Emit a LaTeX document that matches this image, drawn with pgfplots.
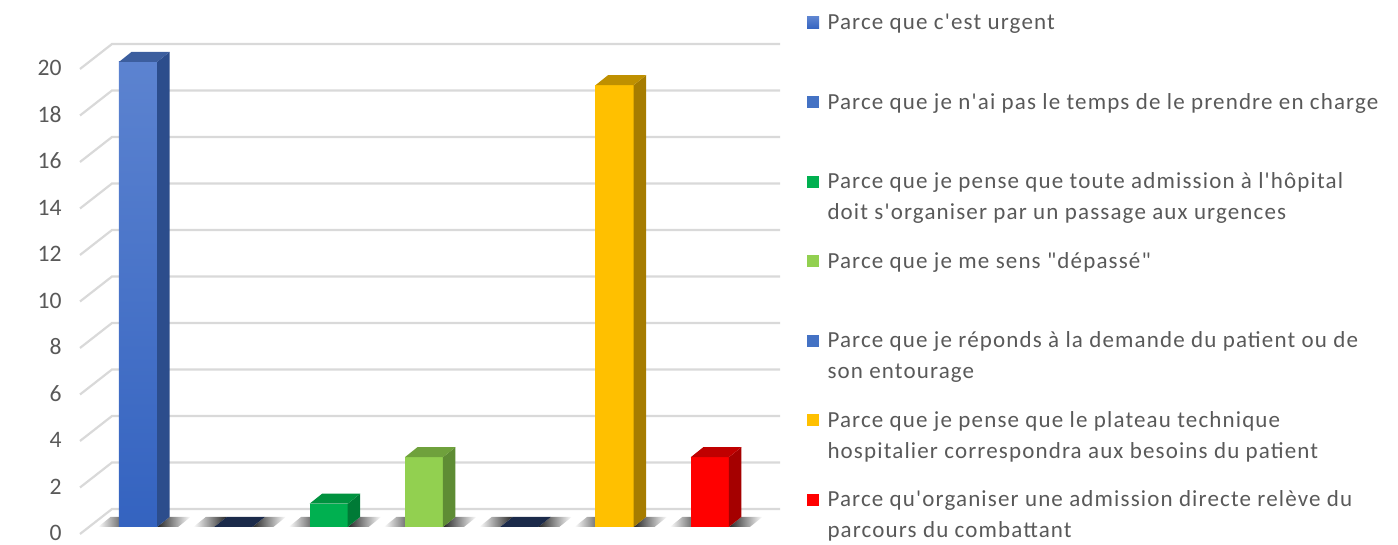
\documentclass[border=0pt]{standalone}
\usepackage{pgfplots}
\pgfplotsset{compat=1.18}
\usepackage{fontspec}
\setmainfont{Carlito}[Ligatures=TeXOff]
\newfontfamily\legfont{Carlito}[Ligatures=TeXOff, LetterSpace=5]
\definecolor{txt}{HTML}{595959}
\definecolor{gridc}{HTML}{D9D9D9}
\definecolor{b1top}{HTML}{5C83D0}
\definecolor{b1bot}{HTML}{3463C0}
\definecolor{b1side}{HTML}{2C4D8C}
\definecolor{b1cap}{HTML}{3C5E9E}
\definecolor{legblue}{HTML}{4472C4}
\definecolor{navy}{HTML}{1B2A4A}
\definecolor{g1}{HTML}{00B050}
\definecolor{g1side}{HTML}{007A36}
\definecolor{g1cap}{HTML}{00923F}
\definecolor{g2}{HTML}{92D050}
\definecolor{g2side}{HTML}{5E8C34}
\definecolor{g2cap}{HTML}{6FA13C}
\definecolor{y1}{HTML}{FFC000}
\definecolor{y1side}{HTML}{A67C00}
\definecolor{y1cap}{HTML}{BF9000}
\definecolor{r1}{HTML}{FF0000}
\definecolor{r1side}{HTML}{A50000}
\definecolor{r1cap}{HTML}{C00000}
\newcommand{\lent}[1]{\parbox[t][30pt][t]{290pt}{\legfont\fontsize{11.5pt}{15.5pt}\selectfont\raggedright\rule{0pt}{9pt}#1}}
\begin{document}
\begin{tikzpicture}
\useasboundingbox (0,0) rectangle (699pt,272.5pt);
\begin{axis}[
  at={(40pt,9pt)}, anchor=south west,
  scale only axis, width=350pt, height=232.5pt,
  xmin=-0.6086, xmax=6.7366, ymin=0, ymax=20,
  clip=false,
  axis line style={draw=none},
  major tick style={draw=none},
  xtick=\empty,
  ytick={0,2,...,20},
  /pgf/number format/assume math mode=true,
  yticklabel style={font=\fontsize{11.8pt}{12pt}\selectfont, text=txt, anchor=east, inner sep=0pt, xshift=-9pt, yshift=-3pt},
  mybar/.style={ybar, bar width=0.4, bar shift=0pt, draw=none,
    legend image code/.code={\fill[##1] (0pt,0.5pt) rectangle (6pt,6.5pt);}},
  lsh/.style={forget plot, draw=none, left color=white, right color=black!85},
  rsh/.style={forget plot, draw=none, left color=black!85, right color=white},
  legend cell align=left,
  legend style={at={(1.03857,1.10753)}, anchor=north west, draw=none, fill=none,
    inner sep=0pt, outer sep=0pt, row sep=29.25pt, column sep=4.25pt,
    nodes={inner sep=0pt, text=txt}, cells={anchor=base west}},
]
% gridlines (left wall + back wall)
\pgfplotsinvokeforeach{0,2,...,20}{
  \draw[gridc, line width=1.1pt] (axis cs:-0.6086,#1-0.301) -- (axis cs:-0.2728,#1+0.774) -- (axis cs:6.7366,#1+0.774);
}
% floor shadows
\addplot[lsh] coordinates {(-0.42,0) (-0.2,0) (-0.069,0.43) (-0.289,0.43)} -- cycle;
\addplot[rsh] coordinates {(0.2,0) (0.42,0) (0.551,0.43) (0.331,0.43)} -- cycle;
\addplot[lsh] coordinates {(0.58,0) (0.8,0) (0.931,0.43) (0.711,0.43)} -- cycle;
\addplot[rsh] coordinates {(1.2,0) (1.42,0) (1.551,0.43) (1.331,0.43)} -- cycle;
\addplot[lsh] coordinates {(1.58,0) (1.8,0) (1.931,0.43) (1.711,0.43)} -- cycle;
\addplot[rsh] coordinates {(2.2,0) (2.42,0) (2.551,0.43) (2.331,0.43)} -- cycle;
\addplot[lsh] coordinates {(2.58,0) (2.8,0) (2.931,0.43) (2.711,0.43)} -- cycle;
\addplot[rsh] coordinates {(3.2,0) (3.42,0) (3.551,0.43) (3.331,0.43)} -- cycle;
\addplot[lsh] coordinates {(3.58,0) (3.8,0) (3.931,0.43) (3.711,0.43)} -- cycle;
\addplot[rsh] coordinates {(4.2,0) (4.42,0) (4.551,0.43) (4.331,0.43)} -- cycle;
\addplot[lsh] coordinates {(4.58,0) (4.8,0) (4.931,0.43) (4.711,0.43)} -- cycle;
\addplot[rsh] coordinates {(5.2,0) (5.42,0) (5.551,0.43) (5.331,0.43)} -- cycle;
\addplot[lsh] coordinates {(5.58,0) (5.8,0) (5.931,0.43) (5.711,0.43)} -- cycle;
\addplot[rsh] coordinates {(6.2,0) (6.42,0) (6.551,0.43) (6.331,0.43)} -- cycle;
% bars (front faces)
\addplot[mybar, top color=b1top, bottom color=b1bot, fill=legblue] coordinates {(0,20)};
\addlegendentry{\lent{Parce que c'est urgent}}
\addplot[mybar, fill=legblue] coordinates {(1,0)};
\addlegendentry{\lent{Parce que je n'ai pas le temps de le prendre en charge}}
\addplot[mybar, fill=g1] coordinates {(2,1)};
\addlegendentry{\lent{Parce que je pense que toute admission à l'hôpital\newline doit s'organiser par un passage aux urgences}}
\addplot[mybar, fill=g2] coordinates {(3,3)};
\addlegendentry{\lent{Parce que je me sens "dépassé"}}
\addplot[mybar, fill=legblue] coordinates {(4,0)};
\addlegendentry{\lent{Parce que je réponds à la demande du patient ou de\newline son entourage}}
\addplot[mybar, fill=y1] coordinates {(5,19)};
\addlegendentry{\lent{Parce que je pense que le plateau technique\newline hospitalier correspondra aux besoins du patient}}
\addplot[mybar, fill=r1] coordinates {(6,3)};
\addlegendentry{\lent{Parce qu'organiser une admission directe relève du\newline parcours du combattant}}
% sides and caps
\addplot[forget plot, draw=none, fill=b1side] coordinates {(0.2,0) (0.331,0.43) (0.331,20.43) (0.2,20)} -- cycle;
\addplot[forget plot, draw=none, fill=b1cap] coordinates {(-0.2,20) (0.2,20) (0.331,20.43) (-0.069,20.43)} -- cycle;
\addplot[forget plot, draw=none, fill=navy] coordinates {(0.8,0) (1.2,0) (1.331,0.43) (0.931,0.43)} -- cycle;
\addplot[forget plot, draw=none, fill=g1side] coordinates {(2.2,0) (2.331,0.43) (2.331,1.43) (2.2,1)} -- cycle;
\addplot[forget plot, draw=none, fill=g1cap] coordinates {(1.8,1) (2.2,1) (2.331,1.43) (1.931,1.43)} -- cycle;
\addplot[forget plot, draw=none, fill=g2side] coordinates {(3.2,0) (3.331,0.43) (3.331,3.43) (3.2,3)} -- cycle;
\addplot[forget plot, draw=none, fill=g2cap] coordinates {(2.8,3) (3.2,3) (3.331,3.43) (2.931,3.43)} -- cycle;
\addplot[forget plot, draw=none, fill=navy] coordinates {(3.8,0) (4.2,0) (4.331,0.43) (3.931,0.43)} -- cycle;
\addplot[forget plot, draw=none, fill=y1side] coordinates {(5.2,0) (5.331,0.43) (5.331,19.43) (5.2,19)} -- cycle;
\addplot[forget plot, draw=none, fill=y1cap] coordinates {(4.8,19) (5.2,19) (5.331,19.43) (4.931,19.43)} -- cycle;
\addplot[forget plot, draw=none, fill=r1side] coordinates {(6.2,0) (6.331,0.43) (6.331,3.43) (6.2,3)} -- cycle;
\addplot[forget plot, draw=none, fill=r1cap] coordinates {(5.8,3) (6.2,3) (6.331,3.43) (5.931,3.43)} -- cycle;
\end{axis}
\end{tikzpicture}
\end{document}
